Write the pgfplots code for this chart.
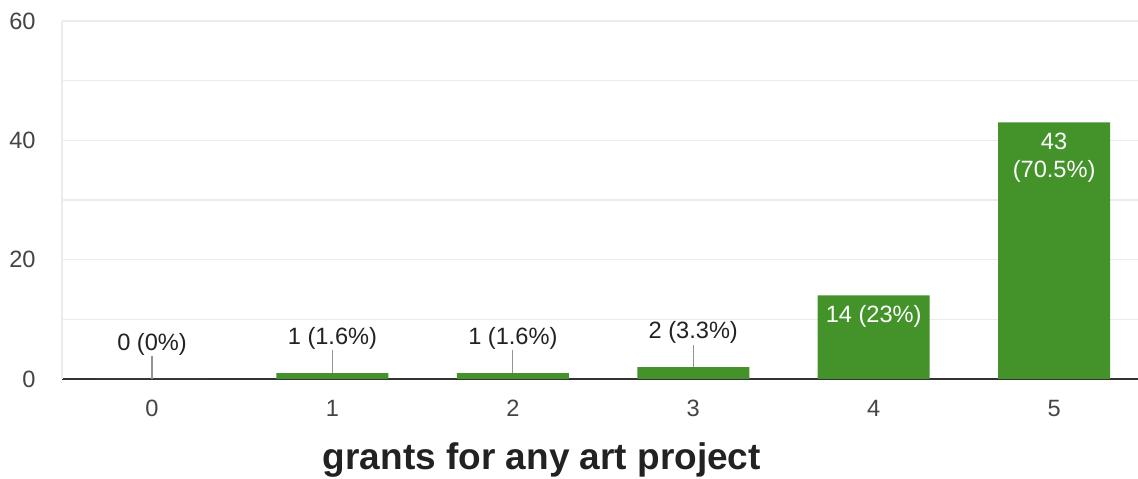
\documentclass[border=0pt]{standalone}
\usepackage{pgfplots}
\pgfplotsset{compat=1.18}
\usepackage{fontspec}
\setmainfont{Liberation Sans}
\definecolor{bargreen}{HTML}{43922A}
\definecolor{gridgray}{HTML}{EBEBEB}
\definecolor{ticktext}{HTML}{444444}
\definecolor{labeltext}{HTML}{222222}
\definecolor{axisdark}{HTML}{333333}
\begin{document}
\begin{tikzpicture}
\begin{axis}[
  scale only axis,
  width=538pt, height=179pt,
  xmin=-0.499, xmax=5.465, ymin=0, ymax=60,
  xtick={0,1,2,3,4,5},
  xticklabels={0,1,2,3,4,5},
  ytick={0,20,40,60},
  minor ytick={10,30,50},
  ymajorgrids, yminorgrids,
  major grid style={draw=gridgray, line width=0.7pt},
  minor grid style={draw=gridgray, line width=0.7pt},
  major tick length=0pt, minor tick length=0pt,
  axis x line*=bottom, axis y line*=left,
  x axis line style={draw=axisdark, line width=1pt},
  y axis line style={draw=gridgray, line width=0.7pt},
  /pgf/number format/assume math mode=true,
  tick label style={font=\fontsize{11.8}{14}\selectfont, text=ticktext},
  yticklabel style={anchor=east, inner sep=0pt, xshift=-13pt},
  xticklabel style={anchor=north, inner sep=0pt, yshift=-10.5pt},
  ybar, bar width=56pt, bar shift=0pt,
  clip=false,
  axis on top=false,
]
\addplot[fill=bargreen, draw=none,
  error bars/.cd, y dir=plus, y explicit, error mark=none,
  error bar style={draw=gray!85, line width=0.6pt}]
  plot[point meta=explicit symbolic,
    nodes near coords,
    every node near coord/.append style={anchor=south, inner sep=0pt, yshift=11.5pt,
      font=\fontsize{11.8}{14}\selectfont, text=labeltext}]
  coordinates {
  (0,0) +- (0,3.9) [0 (0\%)]
  (1,1) +- (0,3.8) [1 (1.6\%)]
  (2,1) +- (0,3.8) [1 (1.6\%)]
  (3,2) +- (0,3.7) [2 (3.3\%)]
};
\addplot[fill=bargreen, draw=none,
  point meta=explicit symbolic,
  nodes near coords,
  every node near coord/.append style={anchor=north, inner sep=0pt, yshift=-5pt,
    font=\fontsize{11.8}{14}\selectfont, text=white, align=center}]
  coordinates {
  (4,14) [14 (23\%)]
  (5,43) [43\\(70.5\%)]
};
\node[anchor=base, font=\bfseries\fontsize{18.5}{22}\selectfont, text=labeltext]
  at ([yshift=-45.5pt]rel axis cs:0.446,0) {grants for any art project};
\end{axis}
\pgfresetboundingbox
\path ([shift={(-31pt,-50pt)}]current axis.south west) rectangle ([shift={(0pt,10.5pt)}]current axis.north east);
\end{tikzpicture}
\end{document}
